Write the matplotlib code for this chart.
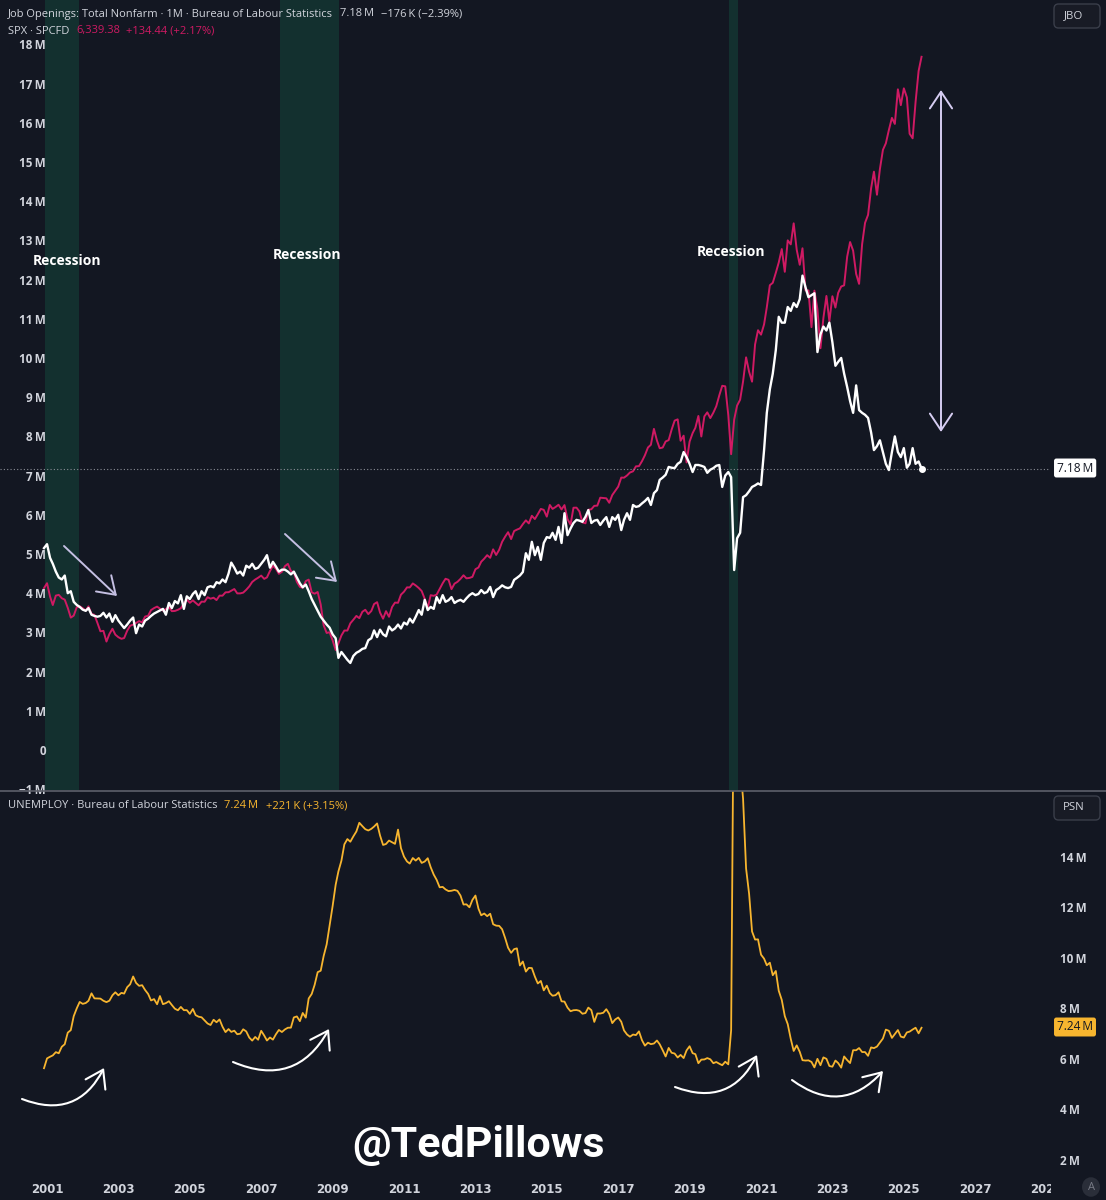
import numpy as np
import pandas as pd
import matplotlib
matplotlib.use('Agg')
import matplotlib.pyplot as plt
import matplotlib.dates as mdates
from matplotlib.patches import FancyArrowPatch, Rectangle, FancyBboxPatch, Circle
from matplotlib.lines import Line2D

# ---------------- DATA (monthly, Dec 2000 -> Jul 2025) ----------------
start_month = '2000-12-01'
n_months = 296

# Job openings, total nonfarm (millions)
jobs_openings = [5.15,
    5.25, 4.9, 4.75, 4.55, 4.4, 4.35, 4.45, 4.0, 4.05, 3.78, 3.7, 3.65,
    3.58, 3.55, 3.62, 3.45, 3.42, 3.40, 3.42, 3.5, 3.38, 3.48, 3.27, 3.44,
    3.3, 3.2, 3.11, 3.2, 3.3, 3.38, 2.98, 3.2, 3.15, 3.3, 3.35, 3.42,
    3.48, 3.52, 3.56, 3.6, 3.45, 3.75, 3.62, 3.8, 3.74, 3.95, 3.6, 3.92,
    3.85, 3.98, 4.05, 3.85, 4.05, 3.95, 4.15, 4.18, 4.15, 4.28, 4.25, 4.35,
    4.28, 4.5, 4.78, 4.65, 4.5, 4.55, 4.45, 4.7, 4.65, 4.75, 4.62, 4.65,
    4.75, 4.85, 4.97, 4.65, 4.8, 4.68, 4.55, 4.6, 4.6, 4.55, 4.48, 4.55,
    4.4, 4.25, 4.15, 4.22, 4.05, 3.85, 3.7, 3.55, 3.4, 3.3, 3.2, 3.12,
    2.95, 2.85, 2.35, 2.5, 2.4, 2.3, 2.22, 2.4, 2.48, 2.52, 2.58, 2.6,
    2.8, 2.85, 3.05, 2.88, 3.07, 2.95, 2.9, 3.15, 3.05, 3.1, 3.2, 3.1,
    3.25, 3.2, 3.35, 3.25, 3.4, 3.57, 3.45, 3.83, 3.57, 3.65, 3.6, 3.9,
    3.75, 3.95, 3.78, 3.82, 3.9, 3.75, 3.8, 3.83, 3.78, 3.87, 3.95, 4.0,
    3.95, 3.98, 4.08, 4.0, 4.03, 4.16, 3.9, 4.08, 4.13, 4.2, 4.15, 4.13,
    4.16, 4.34, 4.39, 4.45, 4.54, 5.02, 4.85, 5.31, 4.97, 5.18, 4.85, 5.28,
    5.43, 5.41, 5.54, 5.36, 5.69, 5.28, 6.04, 5.48, 5.65, 5.79, 5.87, 5.85,
    5.82, 5.95, 6.12, 5.79, 5.85, 5.87, 5.74, 5.85, 5.94, 5.69, 5.94, 5.87,
    6.0, 5.61, 5.87, 6.04, 5.87, 6.25, 6.2, 6.22, 6.29, 6.35, 6.43, 6.25,
    6.55, 6.63, 6.89, 6.95, 7.02, 7.22, 7.2, 7.19, 7.3, 7.35, 7.6, 7.47,
    7.3, 7.09, 7.27, 7.27, 7.25, 7.22, 7.07, 7.15, 7.19, 7.25, 7.27, 6.71,
    7.0, 7.09, 6.96, 4.59, 5.4, 5.54, 6.45, 6.5, 6.6, 6.71, 6.75, 6.8,
    6.76, 7.65, 8.6, 9.2, 9.6, 10.2, 11.05, 10.9, 10.9, 11.3, 11.2, 11.4,
    11.3, 11.5, 12.1, 11.8, 11.55, 11.6, 11.65, 10.15, 10.6, 10.8, 10.7, 10.9,
    10.4, 9.8, 9.9, 10.0, 9.6, 9.26, 8.9, 8.6, 9.3, 8.67, 8.6, 8.55,
    8.47, 8.1, 7.65, 7.75, 7.9, 7.6, 7.3, 7.14, 7.6, 8.0, 7.6, 7.47,
    7.7, 7.2, 7.3, 7.7, 7.3, 7.36, 7.18]

# S&P 500 monthly close (index points)
spx_close = [1320,
    1366, 1240, 1160, 1249, 1256, 1224, 1211, 1134, 1041, 1060, 1139, 1148,
    1130, 1107, 1147, 1077, 1067, 990, 912, 916, 815, 886, 936, 880,
    856, 841, 848, 917, 964, 975, 990, 1008, 996, 1051, 1058, 1112,
    1131, 1145, 1126, 1107, 1121, 1141, 1102, 1104, 1115, 1130, 1174, 1212,
    1181, 1204, 1181, 1157, 1192, 1191, 1234, 1220, 1229, 1207, 1249, 1248,
    1280, 1281, 1295, 1311, 1270, 1270, 1277, 1304, 1336, 1378, 1401, 1418,
    1438, 1407, 1421, 1482, 1531, 1503, 1455, 1474, 1527, 1549, 1481, 1468,
    1379, 1331, 1323, 1386, 1400, 1280, 1267, 1283, 1165, 969, 896, 903,
    826, 735, 798, 873, 919, 919, 987, 1021, 1057, 1036, 1096, 1115,
    1074, 1104, 1169, 1187, 1089, 1031, 1102, 1049, 1141, 1183, 1181, 1258,
    1286, 1327, 1326, 1364, 1345, 1321, 1292, 1219, 1131, 1253, 1247, 1258,
    1312, 1366, 1408, 1398, 1310, 1362, 1379, 1407, 1441, 1412, 1416, 1426,
    1498, 1515, 1569, 1598, 1631, 1606, 1686, 1633, 1682, 1757, 1806, 1848,
    1783, 1859, 1872, 1884, 1924, 1960, 1931, 2003, 1972, 2018, 2068, 2059,
    1995, 2105, 2068, 2086, 2107, 2063, 2104, 1972, 1920, 2079, 2080, 2044,
    1940, 1932, 2060, 2065, 2097, 2099, 2174, 2171, 2168, 2126, 2199, 2239,
    2279, 2364, 2363, 2384, 2412, 2423, 2470, 2472, 2519, 2575, 2648, 2674,
    2824, 2714, 2641, 2648, 2705, 2718, 2816, 2902, 2914, 2712, 2760, 2507,
    2704, 2784, 2834, 2946, 2752, 2942, 2980, 2926, 2977, 3038, 3141, 3231,
    3226, 2954, 2585, 2912, 3044, 3100, 3271, 3500, 3363, 3270, 3622, 3756,
    3714, 3811, 3973, 4181, 4204, 4298, 4395, 4523, 4308, 4605, 4567, 4766,
    4516, 4374, 4530, 4132, 4132, 3785, 4130, 3955, 3586, 3872, 4080, 3840,
    4077, 3970, 4109, 4169, 4180, 4450, 4589, 4508, 4288, 4194, 4568, 4770,
    4846, 5096, 5254, 5036, 5278, 5460, 5522, 5648, 5762, 5705, 6032, 5882,
    6041, 5955, 5612, 5569, 5912, 6205, 6339]

# Unemployed persons (thousands)
unemployed_k = [5634,
    6023, 6089, 6141, 6271, 6226, 6484, 6583, 7042, 7142, 7694, 8003, 8258,
    8182, 8215, 8304, 8599, 8399, 8393, 8390, 8304, 8251, 8307, 8520, 8640,
    8520, 8618, 8588, 8842, 8957, 9266, 9011, 8896, 8921, 8732, 8576, 8317,
    8370, 8167, 8491, 8170, 8212, 8286, 8136, 7990, 7927, 8061, 7932, 7934,
    7784, 7980, 7737, 7672, 7651, 7524, 7406, 7345, 7553, 7453, 7566, 7279,
    7064, 7184, 7072, 7120, 6980, 7001, 7175, 7091, 6847, 6727, 6872, 6762,
    7116, 6927, 6731, 6850, 6766, 6979, 7149, 7067, 7170, 7237, 7240, 7645,
    7685, 7497, 7822, 7637, 8395, 8575, 8937, 9438, 9494, 10074, 10538, 11286,
    12058, 12898, 13426, 13853, 14499, 14707, 14601, 14814, 15009, 15352, 15219, 15098,
    15046, 15113, 15202, 15325, 14849, 14474, 14512, 14648, 14579, 14516, 15081, 14348,
    14013, 13820, 13737, 13957, 13855, 13962, 13763, 13818, 13948, 13594, 13302, 13093,
    12797, 12813, 12713, 12646, 12660, 12692, 12656, 12471, 12115, 12124, 12005, 12298,
    12471, 11950, 11689, 11760, 11654, 11751, 11335, 11279, 11270, 11136, 10787, 10404,
    10202, 10349, 10380, 9702, 9859, 9460, 9608, 9599, 9262, 8990, 9090, 8717,
    8903, 8610, 8504, 8526, 8640, 8283, 8271, 8034, 7891, 7930, 7938, 7907,
    7791, 7819, 8034, 7932, 7468, 7801, 7799, 7829, 7971, 7787, 7420, 7563,
    7642, 7474, 7131, 6969, 6882, 6967, 6946, 7093, 6743, 6527, 6645, 6587,
    6612, 6731, 6584, 6346, 6098, 6437, 6245, 6216, 6059, 6161, 6036, 6339,
    6504, 6230, 6191, 5832, 5975, 5981, 6035, 5987, 5833, 5880, 5811, 5753,
    5892, 5787, 7140, 23078, 20985, 17697, 16308, 13542, 12535, 11049, 10728, 10736,
    10130, 9972, 9710, 9812, 9316, 9484, 8702, 8339, 7697, 7381, 6795, 6318,
    6539, 6282, 5952, 5937, 5946, 5883, 5667, 6006, 5753, 6063, 6006, 5722,
    5694, 5938, 5839, 5657, 6100, 5957, 5838, 6347, 6346, 6432, 6274, 6274,
    6124, 6458, 6429, 6492, 6649, 6811, 7163, 7115, 6834, 6984, 7145, 6886,
    6849, 7052, 7083, 7166, 7237, 7015, 7236]

recession_start = ['2000-12-11', '2007-07-10', '2020-02-10']
recession_end = ['2001-11-24', '2009-03-06', '2020-05-10']

top_ticks = list(range(-1, 19))
bottom_ticks = [2, 4, 6, 8, 10, 12, 14]
year_ticks = list(range(2001, 2030, 2))

# ---------------- STYLE / LAYOUT ----------------
W, H = 1106, 1200
BG = '#131722'
TXT = '#d1d4dc'
PINK = '#cf1a63'
YEL = '#f7b52f'
BAND = '#13302f'
FONT = ['Open Sans', 'DejaVu Sans']

plt.rcParams['font.family'] = FONT

fig = plt.figure(figsize=(W / 100, H / 100), dpi=100)
fig.patch.set_facecolor(BG)

def fx(x):
    return x / W

def fy(y):
    return 1 - y / H

dates = pd.date_range(start_month, periods=n_months, freq='MS')
assert len(jobs_openings) == n_months and len(spx_close) == n_months and len(unemployed_k) == n_months

base = mdates.date2num(pd.Timestamp(start_month))
dpp = 30.437 / 2.975          # days per pixel
x_left = base - 44 * dpp
x_right = base + (W - 44) * dpp

ax1 = fig.add_axes([0, fy(790), 1, 790 / H])
ax2 = fig.add_axes([0, fy(1172), 1, (1172 - 791) / H])
for ax in (ax1, ax2):
    ax.set_facecolor(BG)
    for s in ax.spines.values():
        s.set_visible(False)
    ax.set_xlim(x_left, x_right)
    ax.yaxis.tick_right()
    ax.tick_params(axis='y', length=0, pad=-33, colors=TXT, labelsize=8.4)

# ---- top panel
ax1.set_ylim(-1.02, 19.13)
ax1.set_yticks(top_ticks)
ax1.set_yticklabels([('0' if v == 0 else ('\u22121\u2009M' if v < 0 else f'{v}\u2009M')) for v in top_ticks],
                    fontweight='bold')
ax1.set_xticks([])

axs = ax1.twinx()
axs.set_xlim(x_left, x_right)
# SPX overlay scale aligned with the job openings scale
axs.set_ylim((-1.02 - 0.566) / 0.0027, (19.13 - 0.566) / 0.0027)
axs.set_yticks([])
for s in axs.spines.values():
    s.set_visible(False)
for s, e in zip(recession_start, recession_end):
    axs.axvspan(pd.Timestamp(s), pd.Timestamp(e), color=BAND, lw=0, zorder=0)
axs.plot(dates, spx_close, color=PINK, lw=1.4, zorder=2)
ax1.set_zorder(axs.get_zorder() + 0.5)
ax1.patch.set_visible(False)
axs.patch.set_facecolor(BG)
axs.patch.set_visible(True)
ax1.axhline(jobs_openings[-1], xmax=1050 / W, color='#8a8d96', ls=(0, (1, 2)), lw=0.8, zorder=1)
ax1.plot(dates, jobs_openings, color='white', lw=1.7, zorder=3)
ax1.plot(dates[-1], jobs_openings[-1], 'o', color='white', ms=4, zorder=4)

# ---- bottom panel
ax2.set_ylim(1.525, 16.61)
ax2.plot(dates, np.array(unemployed_k) / 1000, color=YEL, lw=1.3, zorder=3)
ax2.set_yticks(bottom_ticks)
ax2.set_yticklabels([f'{v}\u2009M' for v in bottom_ticks], fontweight='bold')
ax2.set_xticks([pd.Timestamp(f'{y}-01-01') for y in year_ticks])
ax2.set_xticklabels([str(y) for y in year_ticks], family=['Liberation Sans Narrow', 'DejaVu Sans'],
                    fontweight='bold')
ax2.tick_params(axis='x', length=0, pad=8, colors=TXT, labelsize=8.5)

# ---------------- figure-level decorations ----------------
Z = 10
fig.add_artist(Line2D([0, 1], [fy(790.5), fy(790.5)], transform=fig.transFigure, color='#5d606b', lw=1.2,
                      zorder=Z))
fig.add_artist(Rectangle((fx(1051), 0), fx(W - 1051), fy(1174), transform=fig.transFigure,
                         facecolor=BG, edgecolor='none', zorder=Z))
fig.add_artist(Circle((fx(1091), fy(1187)), 9 / W, transform=fig.transFigure,
                      facecolor='#2a2e39', edgecolor='none', zorder=Z + 1))
fig.text(fx(1091), fy(1187), 'A', color='#787b86', fontsize=8, ha='center', va='center', zorder=Z + 2)

for ytop, lab in [(4, 'JBO'), (796, 'PSN')]:
    fig.add_artist(FancyBboxPatch((fx(1054), fy(ytop + 24)), fx(46), 24 / H,
                                  boxstyle='round,pad=0,rounding_size=0.004',
                                  transform=fig.transFigure, facecolor='#181b25',
                                  edgecolor='#3a3e4a', lw=1, zorder=Z))
    fig.text(fx(1074), fy(ytop + 12), lab, color=TXT, fontsize=8.2, ha='center', va='center', zorder=Z + 1)

fig.text(fx(1057), fy(468), '7.18\u2009M', color='#131722', fontsize=8.6, ha='left', va='center', zorder=Z + 1,
         bbox=dict(boxstyle='round,pad=0.25,rounding_size=0.2', fc='white', ec='none'))
fig.text(fx(1057), fy(1027), '7.24\u2009M', color='#131722', fontsize=8.6, ha='left', va='center', zorder=Z + 1,
         bbox=dict(boxstyle='round,pad=0.25,rounding_size=0.2', fc=YEL, ec='none'))

# headers: pieces laid out one after another
renderer = fig.canvas.get_renderer()
hs = 8.0

def header(y, pieces, x0=8):
    x = fx(x0)
    for txt, col, gap in pieces:
        t = fig.text(x, fy(y), txt, color=col, fontsize=hs, va='center', zorder=Z + 1)
        bb = t.get_window_extent(renderer)
        x = (bb.x1 + gap) / W

header(14, [('Job Openings: Total Nonfarm \u00b7 1M \u00b7 Bureau of Labour Statistics', TXT, 7),
            ('7.18\u2009M', TXT, 7), ('\u2212176\u2009K (\u22122.39%)', TXT, 0)])
header(31, [('SPX \u00b7 SPCFD', TXT, 7), ('6,339.38', PINK, 6), ('+134.44 (+2.17%)', PINK, 0)])
header(806, [('UNEMPLOY \u00b7 Bureau of Labour Statistics', TXT, 7), ('7.24\u2009M', YEL, 7),
             ('+221\u2009K (+3.15%)', YEL, 0)])

# recession labels
for (x, y) in [(67, 261), (307, 255), (731, 252)]:
    fig.text(fx(x), fy(y), 'Recession', color='white', fontsize=10, fontweight='bold',
             ha='center', va='center', zorder=Z)

# arrows on top panel
ARW = '#c4bfe2'
for (x0, y0, x1, y1) in [(64, 546, 117, 596), (285, 534, 337, 582)]:
    fig.add_artist(FancyArrowPatch((fx(x0), fy(y0)), (fx(x1), fy(y1)), transform=fig.transFigure,
                                   arrowstyle='->,head_length=6,head_width=4', color=ARW, lw=1.4,
                                   mutation_scale=2, shrinkA=0, shrinkB=0, zorder=Z))
fig.add_artist(FancyArrowPatch((fx(941), fy(432)), (fx(941), fy(90)), transform=fig.transFigure,
                               arrowstyle='<->,head_length=6,head_width=4', color='#d6cdf2', lw=1.4,
                               mutation_scale=2, shrinkA=0, shrinkB=0, zorder=Z))

# curved arrows in bottom panel
for (x0, y0, x1, y1) in [(22, 1099, 104, 1068), (233, 1062, 329, 1029), (675, 1087, 757, 1055),
                         (792, 1080, 883, 1071)]:
    fig.add_artist(FancyArrowPatch((fx(x0), fy(y0)), (fx(x1), fy(y1)), transform=fig.transFigure,
                                   connectionstyle='arc3,rad=0.45',
                                   arrowstyle='->,head_length=6,head_width=4', color='white', lw=1.5,
                                   mutation_scale=2, shrinkA=0, shrinkB=0, zorder=Z))

fig.text(fx(478), fy(1145), '@TedPillows', color='white', fontsize=31, fontweight='bold',
         family=['Roboto', 'Liberation Sans', 'DejaVu Sans'], ha='center', va='center', zorder=Z)

fig.savefig('out.png', dpi=100, facecolor=BG)
